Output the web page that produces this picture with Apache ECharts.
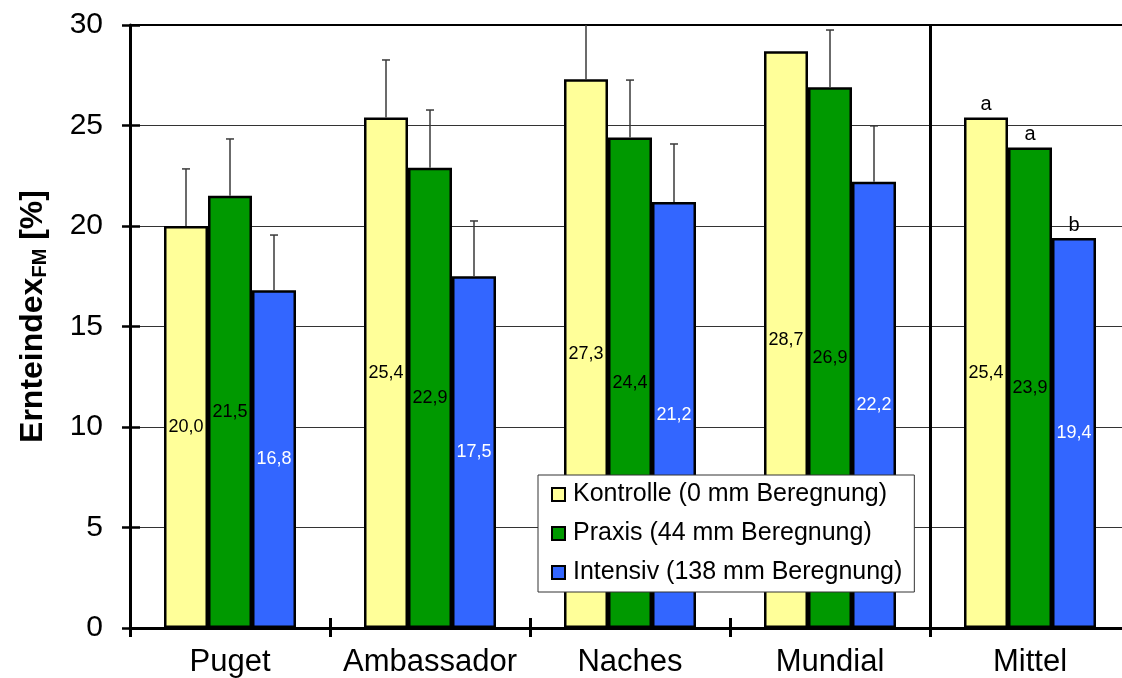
<!DOCTYPE html>
<html>
<head>
<meta charset="utf-8">
<script src="https://cdn.jsdelivr.net/npm/echarts@6/dist/echarts.min.js"></script>
<style>
  html, body { margin: 0; padding: 0; background: #fff; }
  #chart { width: 1122px; height: 678px; }
</style>
</head>
<body>
<div id="chart"></div>
<script>
// Harvest index (fresh matter) per variety and irrigation level
const categories = ['Puget', 'Ambassador', 'Naches', 'Mundial', 'Mittel'];
const seriesNames = ['Kontrolle (0 mm Beregnung)', 'Praxis (44 mm Beregnung)', 'Intensiv (138 mm Beregnung)'];

const kontrolle = [20.0, 25.4, 27.3, 28.7, 25.4];
const praxis    = [21.5, 22.9, 24.4, 26.9, 23.9];
const intensiv  = [16.8, 17.5, 21.2, 22.2, 19.4];

// upper error (deviation above the bar); null = no error bar
const kontrolleErr = [2.84, 2.86, 2.85, null, null];
const praxisErr    = [2.83, 2.87, 2.86, 2.85, null];
const intensivErr  = [2.75, 2.75, 2.88, 2.78, null];

// significance letters for the mean group
const kontrolleSig = ['', '', '', '', 'a'];
const praxisSig    = ['', '', '', '', 'a'];
const intensivSig  = ['', '', '', '', 'b'];

const yTicks = { min: 0, max: 30, interval: 5 };

const colors = ['#FFFF99', '#009900', '#3366FF'];
const labelColors = ['#000', '#000', '#fff'];
const values = [kontrolle, praxis, intensiv];
const errors = [kontrolleErr, praxisErr, intensivErr];
const letters = [kontrolleSig, praxisSig, intensivSig];

const FONT = '"Liberation Sans", Arial, sans-serif';
const BAR_FRACTION = 0.22;

const chart = echarts.init(document.getElementById('chart'), null, { renderer: 'canvas' });

const barSeries = values.map((vals, k) => ({
  name: seriesNames[k],
  type: 'bar',
  xAxisIndex: 0,
  yAxisIndex: 0,
  data: vals,
  barWidth: (BAR_FRACTION * 100) + '%',
  barGap: '0%',
  itemStyle: { color: colors[k], borderColor: '#000', borderWidth: 2.5 },
  label: {
    show: true,
    position: 'inside',
    fontFamily: FONT,
    fontSize: 18,
    color: labelColors[k],
    formatter: p => p.value.toFixed(1).replace('.', ',')
  },
  emphasis: { disabled: true },
  z: 2
}));

// heavier frame line along the top of the plot area
barSeries[0].markLine = {
  silent: true,
  symbol: 'none',
  label: { show: false },
  lineStyle: { color: '#000', width: 2, type: 'solid' },
  data: [{ yAxis: yTicks.max }]
};

// error bars and letters drawn on top of each bar group member
const errSeries = values.map((vals, k) => ({
  type: 'custom',
  xAxisIndex: 0,
  yAxisIndex: 0,
  data: vals.map((v, i) => [i, v, errors[k][i] == null ? NaN : errors[k][i]]),
  encode: { x: 0, y: 1 },
  silent: true,
  z: 5,
  renderItem: (params, api) => {
    const i = api.value(0);
    const v = api.value(1);
    const e = api.value(2);
    const band = api.size([1, 0])[0];
    const off = (k - 1) * band * BAR_FRACTION;
    const base = api.coord([i, v]);
    const x = base[0] + off;
    const children = [];
    if (!isNaN(e)) {
      const topVal = Math.min(v + e, yTicks.max);
      const top = api.coord([i, topVal])[1];
      children.push({
        type: 'line',
        shape: { x1: x, y1: base[1], x2: x, y2: top },
        style: { stroke: '#3a3a3a', lineWidth: 1.5 }
      });
      if (v + e <= yTicks.max) {
        children.push({
          type: 'line',
          shape: { x1: x - 4, y1: top, x2: x + 4, y2: top },
          style: { stroke: '#3a3a3a', lineWidth: 1.5 }
        });
      }
    }
    const letter = letters[k][params.dataIndex];
    if (letter) {
      children.push({
        type: 'text',
        x: x,
        y: base[1] - 3,
        style: {
          text: letter,
          fontFamily: FONT,
          fontSize: 20,
          fill: '#000',
          align: 'center',
          verticalAlign: 'bottom'
        }
      });
    }
    return { type: 'group', children };
  }
}));

const option = {
  backgroundColor: '#fff',
  animation: false,
  grid: { left: 130, top: 25, width: 1000, bottom: 50, containLabel: false, outerBoundsMode: 'none' },
  legend: {
    data: seriesNames,
    orient: 'vertical',
    left: 538,
    top: 475,
    padding: [7, 12, 7, 13],
    itemGap: 14,
    itemWidth: 13,
    itemHeight: 13,
    icon: 'rect',
    itemStyle: { borderColor: '#000', borderWidth: 2 },
    backgroundColor: '#fff',
    borderColor: '#333',
    borderWidth: 1,
    textStyle: { fontFamily: FONT, fontSize: 25, color: '#000', padding: [0, 0, 0, 3] },
    selectedMode: false,
    z: 10
  },
  xAxis: [
    {
      type: 'category',
      data: categories,
      position: 'bottom',
      axisLine: { show: true, lineStyle: { color: '#000', width: 3 } },
      axisTick: { show: true, inside: false, length: 9, lineStyle: { color: '#000', width: 3 } },
      axisLabel: { interval: 0, fontFamily: FONT, fontSize: 31, color: '#000', margin: 19 },
      // separator in front of the mean group (every 4th boundary: 0 and 4)
      splitLine: { show: true, interval: 3, lineStyle: { color: '#000', width: 3 } }
    },
    {
      // inward half of the crossing ticks
      type: 'category',
      data: categories,
      position: 'bottom',
      axisLine: { show: false },
      axisTick: { show: true, inside: true, length: 10, lineStyle: { color: '#000', width: 3 } },
      axisLabel: { show: false },
      splitLine: { show: false }
    }
  ],
  yAxis: [
    {
      type: 'value',
      min: yTicks.min,
      max: yTicks.max,
      interval: yTicks.interval,
      position: 'left',
      name: '{b|Ernteindex}{s|FM}{b| [%]}',
      nameLocation: 'middle',
      nameGap: 79,
      nameRotate: 90,
      nameTextStyle: {
        padding: [0, 0, 0, 20],
        rich: {
          b: { fontFamily: FONT, fontSize: 32, fontWeight: 'bold', color: '#000', lineHeight: 36 },
          s: { fontFamily: FONT, fontSize: 20, fontWeight: 'bold', color: '#000', lineHeight: 36, padding: [15, 0, 0, 0] }
        }
      },
      axisLine: { show: true, lineStyle: { color: '#000', width: 3 } },
      axisTick: { show: true, inside: false, length: 8, lineStyle: { color: '#000', width: 2.5 } },
      axisLabel: { fontFamily: FONT, fontSize: 30, color: '#000', margin: 27 },
      splitLine: { show: true, lineStyle: { color: '#333', width: 1.2 } }
    },
    {
      type: 'value',
      min: yTicks.min,
      max: yTicks.max,
      interval: yTicks.interval,
      position: 'left',
      axisLine: { show: false },
      axisTick: { show: true, inside: true, length: 10, lineStyle: { color: '#000', width: 2.5 } },
      axisLabel: { show: false },
      splitLine: { show: false }
    }
  ],
  series: [...barSeries, ...errSeries]
};

chart.setOption(option);
</script>
</body>
</html>
